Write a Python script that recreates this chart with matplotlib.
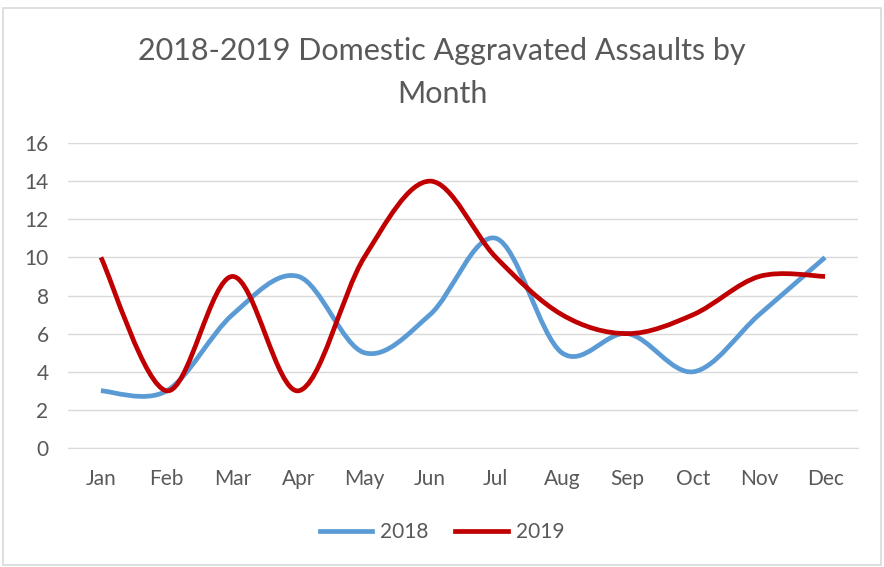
import numpy as np
import matplotlib
matplotlib.use('Agg')
import matplotlib.pyplot as plt
from matplotlib.path import Path
from matplotlib.patches import PathPatch
from matplotlib.lines import Line2D

plt.rcParams['font.family'] = ['Lato', 'DejaVu Sans']

months = ['Jan', 'Feb', 'Mar', 'Apr', 'May', 'Jun', 'Jul', 'Aug', 'Sep', 'Oct', 'Nov', 'Dec']
y2018 = [3, 3, 7, 9, 5, 7, 11, 5, 6, 4, 7, 10]
y2019 = [10, 3, 9, 3, 10, 14, 10, 7, 6, 7, 9, 9]
yticks = [0, 2, 4, 6, 8, 10, 12, 14, 16]

c2018 = '#5B9BD5'
c2019 = '#C00000'
grey = '#595959'


def smooth_path(xs, ys):
    # Excel-style smoothed line: cubic bezier with catmull-rom control points
    pts = np.column_stack([xs, ys]).astype(float)
    n = len(pts)
    verts = [pts[0]]
    codes = [Path.MOVETO]
    for i in range(n - 1):
        p0 = pts[max(i - 1, 0)]
        p1 = pts[i]
        p2 = pts[i + 1]
        p3 = pts[min(i + 2, n - 1)]
        verts += [p1 + (p2 - p0) / 6, p2 - (p3 - p1) / 6, p2]
        codes += [Path.CURVE4] * 3
    return Path(verts, codes)


fig = plt.figure(figsize=(8.84, 5.67), dpi=100)
ax = fig.add_axes([68/884, 1-448/567, 790/884, 305/567])

x = np.arange(len(months))
for vals, col in [(y2018, c2018), (y2019, c2019)]:
    ax.add_patch(PathPatch(smooth_path(x, vals), facecolor='none', edgecolor=col,
                           lw=3.4, capstyle='butt', joinstyle='round', zorder=3))

ax.set_xlim(-0.5, 11.5)
ax.set_ylim(0, 16)
ax.set_yticks(yticks)
ax.set_xticks(x)
ax.set_xticklabels(months)
ax.grid(axis='y', color='#D9D9D9', lw=1)
ax.set_axisbelow(True)
for s in ['top', 'right', 'left']:
    ax.spines[s].set_visible(False)
ax.spines['bottom'].set_color('#D9D9D9')
ax.tick_params(length=0, colors=grey, labelsize=15)
ax.tick_params(axis='x', pad=15)
ax.tick_params(axis='y', pad=14)

fig.text(0.5, 1-51/567, '2018-2019 Domestic Aggravated Assaults by', ha='center', va='center',
         fontsize=22, color=grey)
fig.text(0.5, 1-94/567, 'Month', ha='center', va='center', fontsize=22, color=grey)

handles = [Line2D([], [], color=c2018, lw=3.4), Line2D([], [], color=c2019, lw=3.4)]
fig.legend(handles, ['2018', '2019'], loc='center', bbox_to_anchor=(0.5, 1-532/567),
           ncol=2, frameon=False, fontsize=15, labelcolor=grey, handlelength=2.5,
           columnspacing=1.3, handletextpad=0.4)

fig.add_artist(plt.Rectangle((3/884, 2/567), 878/884, 557/567, transform=fig.transFigure,
                             fill=False, edgecolor='#D9D9D9', lw=1.2))

fig.savefig('out.png', dpi=100)
